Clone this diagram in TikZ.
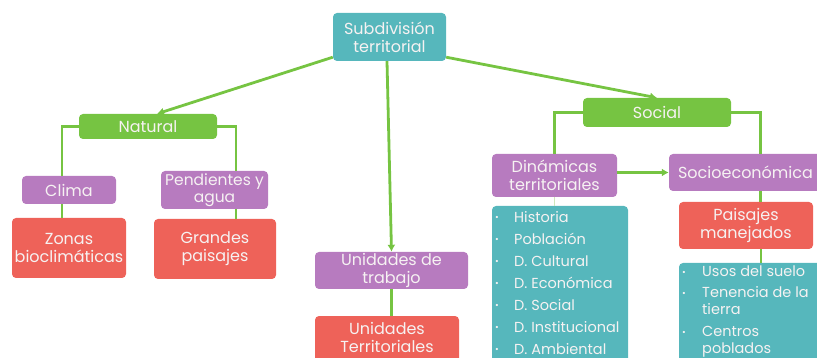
\documentclass[tikz,border=0pt]{standalone}
\usepackage{fontspec}
\setmainfont{Poppins}
\usetikzlibrary{arrows.meta}
\definecolor{boxteal}{HTML}{56B7BC}
\definecolor{boxgreen}{HTML}{76C442}
\definecolor{boxpurple}{HTML}{B77BBF}
\definecolor{boxred}{HTML}{EE6259}
\definecolor{linkgreen}{HTML}{76C442}
\definecolor{paletext}{HTML}{F6F2F2}
\definecolor{thinlink}{HTML}{CFE8BC}
\newcommand{\bul}[1]{\makebox[#1][l]{\raisebox{1.5pt}{\small•}}}
\begin{document}
\begin{tikzpicture}[x=1pt,y=-1pt,
  box/.style={rounded corners=4pt, inner sep=0pt, text=paletext, align=center,
    font=\fontsize{16}{18}\selectfont},
  tealbox/.style={box, fill=boxteal},
  greenbox/.style={box, fill=boxgreen},
  purplebox/.style={box, fill=boxpurple},
  redbox/.style={box, fill=boxred},
  listtext/.style={text=paletext, align=left, inner sep=0pt, anchor=north west,
    font=\fontsize{14.5}{22}\selectfont},
  link/.style={draw=linkgreen, line width=2.8pt},
  arrow/.style={link, -{Latex[length=7pt,width=8pt]}}]
\useasboundingbox (0,0) rectangle (817,358);
\clip (0,0) rectangle (817,358);

% root
\node[tealbox, minimum width=113pt, minimum height=48pt] (sub) at (389.5,37) {Subdivisión\\territorial};

% second level
\node[greenbox, minimum width=138pt, minimum height=25pt] (nat) at (148,126.5) {Natural};
\node[greenbox, minimum width=148pt, minimum height=29pt] (soc) at (657,112.5) {Social};
\node[purplebox, minimum width=153pt, minimum height=37pt] (ut) at (391.5,270.5) {Unidades de\\trabajo};

% natural branch
\node[purplebox, minimum width=94pt, minimum height=28pt] (clima) at (69,190) {Clima};
\node[purplebox, minimum width=107pt, minimum height=38pt, font=\fontsize{15.5}{17}\selectfont] (pend) at (214.5,190) {Pendientes y\\agua};
\node[redbox, minimum width=114pt, minimum height=60pt] (zonas) at (69,248) {Zonas\\bioclimáticas};
\node[redbox, minimum width=122pt, minimum height=60pt] (grandes) at (215,249) {Grandes\\paisajes};

% work units
\node[redbox, minimum width=144pt, minimum height=60pt, text height=14pt] (uterr) at (387,346) {Unidades\\Territoriales};

% social branch
\node[purplebox, minimum width=125pt, minimum height=43pt] (din) at (554.5,175.5) {Dinámicas\\territoriales};
\node[purplebox, minimum width=153pt, minimum height=37pt] (socio) at (745.5,172.5) {Socioeconómica};
\node[redbox, minimum width=134pt, minimum height=47pt] (pais) at (746,225.5) {Paisajes\\manejados};

% bullet lists
\node[tealbox, minimum width=136pt, minimum height=162pt] (list1) at (560,287) {};
\node[listtext] (items1) at (495,211) {%
  \bul{19pt}Historia\\
  \bul{19pt}Población\\
  \bul{19pt}D. Cultural\\
  \bul{19pt}D. Económica\\
  \bul{19pt}D. Social\\
  \bul{19pt}D. Institucional\\
  \bul{19pt}D. Ambiental};

\node[tealbox, minimum width=143pt, minimum height=107pt] (list2) at (750.5,316.5) {};
\node[listtext, font=\fontsize{14.5}{17}\selectfont] (items2) at (682,266) {%
  \bul{20pt}Usos del suelo\\[4pt]
  \bul{20pt}Tenencia de la\\
  \hspace*{20pt}tierra\\[5pt]
  \bul{20pt}Centros\\
  \hspace*{20pt}poblados};

% connectors from the root
\draw[arrow] ([yshift=4pt]sub.south west) -- ([xshift=9pt]nat.north);
\draw[arrow] ([yshift=4pt]sub.south east) -- (soc.north);
\draw[arrow] ([xshift=-2.5pt]sub.south) -- (ut.north);

% elbow links below Natural and Social
\draw[link] (nat.west) -| ([xshift=-7pt]clima.north);
\draw[link] (nat.east) -| ([xshift=21.5pt]pend.north);
\draw[link] (soc.west) -| (din.north);
\draw[link] (soc.east) -| ([xshift=15pt]socio.north);

% vertical links
\draw[link] ([xshift=-7pt]clima.south) -- ([xshift=-7pt]clima.south |- zonas.north);
\draw[link] ([xshift=21.5pt]pend.south) -- ([xshift=21.5pt]pend.south |- grandes.north);
\draw[link] (ut.south) -- (ut.south |- uterr.north);
\draw[link] ([xshift=15pt]socio.south) -- ([xshift=15pt]socio.south |- pais.north);
\draw[link] ([xshift=15pt]pais.south) -- ([xshift=15pt]pais.south |- list2.north);
\draw[draw=thinlink, line width=1pt] (din.south) -- (din.south |- list1.north);

% horizontal arrow between the social boxes
\draw[arrow] (din.east |- socio.west) -- (socio.west);
\end{tikzpicture}
\end{document}
